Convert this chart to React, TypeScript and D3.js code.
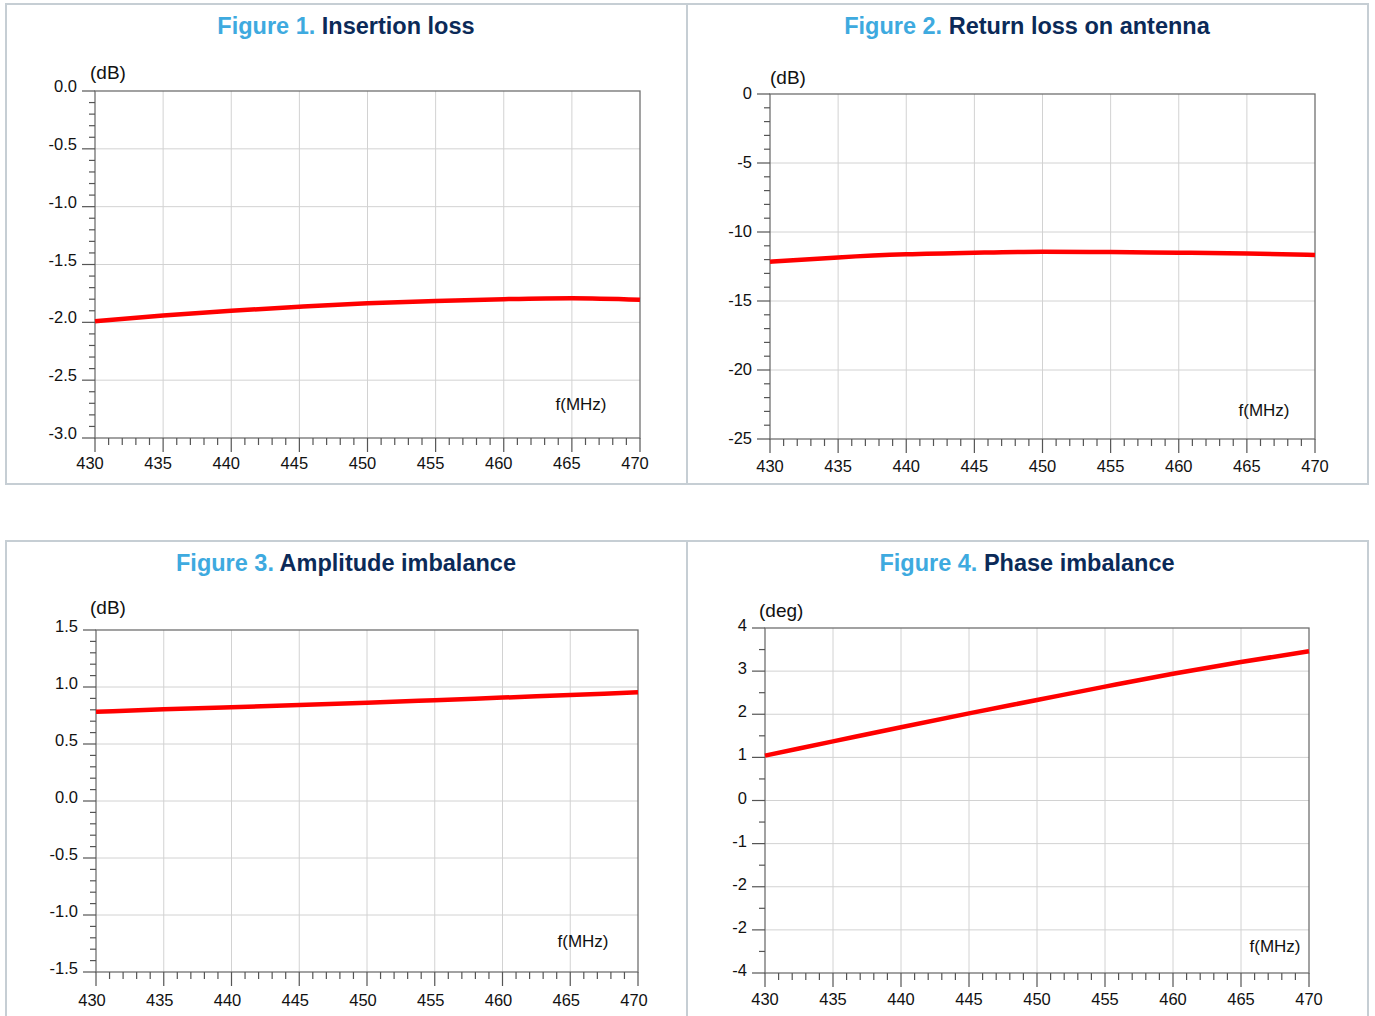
import React, { useRef, useEffect } from "react";
import * as d3 from "d3";

// frequency points (MHz)
const freqs = [430, 435, 440, 445, 450, 455, 460, 465, 470];

// series values
const insertionLoss = [-1.99, -1.94, -1.9, -1.865, -1.835, -1.815, -1.8, -1.792, -1.805];
const returnLoss = [-12.15, -11.84, -11.62, -11.5, -11.43, -11.45, -11.5, -11.55, -11.67];
const amplitudeImbalance = [0.783, 0.804, 0.823, 0.842, 0.862, 0.884, 0.907, 0.93, 0.953];
const phaseImbalance = [1.04, 1.37, 1.7, 2.02, 2.33, 2.64, 2.94, 3.21, 3.46];

// tick labels on the phase plot (as printed)
const phaseTickLabels = ["4", "3", "2", "1", "0", "-1", "-2", "-2", "-4"];

const FONT = "'Liberation Sans', Arial, Helvetica, sans-serif";

// plain hyphen for negatives, like the original
const locale = d3.formatLocale({
  decimal: ".",
  thousands: ",",
  grouping: [3],
  currency: ["", ""],
  minus: "-",
});

interface PanelSpec {
  num: string;
  title: string;
  unit: string;
  values: number[];
  yDomain: [number, number];
  yMajor: number;
  yMinor: number;
  yLabels?: string[];
  yFmt: (v: number) => string;
  // plot box in page pixels
  left: number;
  right: number;
  top: number;
  bottom: number;
  titleX: number;
  titleY: number;
  unitDx: number;
  unitDy: number;
  fDx: number;
  fDy: number;
  xLabelDx: number;
  xLabelDy: number;
  yLabelDy: number;
}

const panels: PanelSpec[] = [
  {
    num: "Figure 1.", title: "Insertion loss", unit: "(dB)", values: insertionLoss,
    yDomain: [-3, 0], yMajor: 0.5, yMinor: 0.1, yFmt: locale.format(".1f"),
    left: 95, right: 640, top: 91, bottom: 438, titleX: 346, titleY: 34,
    unitDx: -5, unitDy: -12, fDx: -59, fDy: -28, xLabelDx: -5, xLabelDy: 31, yLabelDy: 1,
  },
  {
    num: "Figure 2.", title: "Return loss on antenna", unit: "(dB)", values: returnLoss,
    yDomain: [-25, 0], yMajor: 5, yMinor: 1, yFmt: locale.format("d"),
    left: 770, right: 1315, top: 94, bottom: 439, titleX: 1027, titleY: 34,
    unitDx: 0, unitDy: -10, fDx: -51, fDy: -23, xLabelDx: 0, xLabelDy: 33, yLabelDy: 5,
  },
  {
    num: "Figure 3.", title: "Amplitude imbalance", unit: "(dB)", values: amplitudeImbalance,
    yDomain: [-1.5, 1.5], yMajor: 0.5, yMinor: 0.1, yFmt: locale.format(".1f"),
    left: 96, right: 638, top: 630, bottom: 972, titleX: 346, titleY: 571,
    unitDx: -6, unitDy: -16, fDx: -55, fDy: -25, xLabelDx: -4, xLabelDy: 34, yLabelDy: 2,
  },
  {
    num: "Figure 4.", title: "Phase imbalance", unit: "(deg)", values: phaseImbalance,
    yDomain: [-4, 4], yMajor: 1, yMinor: 0.5, yLabels: phaseTickLabels, yFmt: locale.format("d"),
    left: 765, right: 1309, top: 628, bottom: 973, titleX: 1027, titleY: 571,
    unitDx: -6, unitDy: -11, fDx: -34, fDy: -21, xLabelDx: 0, xLabelDy: 32, yLabelDy: 3,
  },
];

const drawPanel = (svg: d3.Selection<SVGSVGElement, unknown, null, undefined>, p: PanelSpec) => {
  const x = d3.scaleLinear().domain([430, 470]).range([p.left, p.right]);
  const y = d3.scaleLinear().domain(p.yDomain).range([p.bottom, p.top]);
  const g = svg.append("g");

  const n = Math.round((p.yDomain[1] - p.yDomain[0]) / p.yMajor);
  const yMajors = d3.range(n + 1).map((i) => p.yDomain[0] + i * p.yMajor);
  const nm = Math.round((p.yDomain[1] - p.yDomain[0]) / p.yMinor);
  const yMinors = d3.range(nm + 1).map((i) => p.yDomain[0] + i * p.yMinor);
  const xMajors = d3.range(430, 471, 5);
  const xMinors = d3.range(430, 471, 1);

  // grid
  g.selectAll(".vgrid")
    .data(xMajors.slice(1, -1))
    .join("line")
    .attr("x1", (d) => x(d)).attr("x2", (d) => x(d))
    .attr("y1", p.top).attr("y2", p.bottom)
    .style("stroke", "#d2d2d2").style("stroke-width", 1);
  g.selectAll(".hgrid")
    .data(yMajors.slice(1, -1))
    .join("line")
    .attr("x1", p.left).attr("x2", p.right)
    .attr("y1", (d) => y(d)).attr("y2", (d) => y(d))
    .style("stroke", "#d2d2d2").style("stroke-width", 1);

  // frame
  g.append("rect")
    .attr("x", p.left).attr("y", p.top)
    .attr("width", p.right - p.left).attr("height", p.bottom - p.top)
    .style("fill", "none").style("stroke", "#707070").style("stroke-width", 1.3);

  // y ticks
  g.selectAll(".ytick")
    .data(yMinors)
    .join("line")
    .attr("x1", (d) => (yMajors.some((m) => Math.abs(m - d) < 1e-6) ? p.left - 13 : p.left - 6))
    .attr("x2", p.left)
    .attr("y1", (d) => y(d)).attr("y2", (d) => y(d))
    .style("stroke", "#555").style("stroke-width", 1.2);

  // x ticks
  g.selectAll(".xtick")
    .data(xMinors)
    .join("line")
    .attr("x1", (d) => x(d)).attr("x2", (d) => x(d))
    .attr("y1", p.bottom)
    .attr("y2", (d) => (d % 5 === 0 ? p.bottom + 14 : p.bottom + 7))
    .style("stroke", "#555").style("stroke-width", 1.2);

  // y labels
  const ordered = [...yMajors].reverse();
  g.selectAll(".ylab")
    .data(ordered)
    .join("text")
    .attr("x", p.left - 18)
    .attr("y", (d) => y(d) + p.yLabelDy)
    .attr("text-anchor", "end")
    .style("font-family", FONT).style("font-size", "16.5px").style("fill", "#111")
    .text((d, i) => (p.yLabels ? p.yLabels[i] : p.yFmt(d)));

  // x labels
  g.selectAll(".xlab")
    .data(xMajors)
    .join("text")
    .attr("x", (d) => x(d) + p.xLabelDx)
    .attr("y", p.bottom + p.xLabelDy)
    .attr("text-anchor", "middle")
    .style("font-family", FONT).style("font-size", "16.5px").style("fill", "#111")
    .text((d) => d);

  // unit labels
  g.append("text")
    .attr("x", p.left + p.unitDx).attr("y", p.top + p.unitDy)
    .style("font-family", FONT).style("font-size", "19px").style("fill", "#111")
    .text(p.unit);
  g.append("text")
    .attr("x", p.right + p.fDx).attr("y", p.bottom + p.fDy)
    .attr("text-anchor", "middle")
    .style("font-family", FONT).style("font-size", "17px").style("fill", "#111")
    .text("f(MHz)");

  // data line
  const line = d3
    .line<number>()
    .x((_, i) => x(freqs[i]))
    .y((d) => y(d))
    .curve(d3.curveMonotoneX);
  g.append("path")
    .datum(p.values)
    .attr("d", line)
    .style("fill", "none").style("stroke", "#ff0000").style("stroke-width", 4.5);

  // title
  const t = g.append("text")
    .attr("x", p.titleX).attr("y", p.titleY)
    .attr("text-anchor", "middle")
    .style("font-family", FONT).style("font-size", "23.5px").style("font-weight", "bold");
  t.append("tspan").style("fill", "#3eaadf").text(p.num + " ");
  t.append("tspan").style("fill", "#0b2a58").text(p.title);
};

export default function App() {
  const svgRef = useRef<SVGSVGElement>(null);

  useEffect(() => {
    const svg = d3.select(svgRef.current!);
    svg.selectAll("*").remove();

    svg.append("rect").attr("width", 1375).attr("height", 1016).style("fill", "#fff");

    // panel boxes
    const boxes = [
      { x: 6, y: 4, h: 480 },
      { x: 6, y: 541, h: 500 },
    ];
    boxes.forEach((b) => {
      svg.append("rect")
        .attr("x", b.x).attr("y", b.y).attr("width", 1362).attr("height", b.h)
        .style("fill", "none").style("stroke", "#c6ced4").style("stroke-width", 2);
      svg.append("line")
        .attr("x1", 687).attr("x2", 687).attr("y1", b.y).attr("y2", b.y + b.h)
        .style("stroke", "#c6ced4").style("stroke-width", 2);
    });

    panels.forEach((p) => drawPanel(svg, p));
  }, []);

  return (
    <svg
      ref={svgRef}
      width={1375}
      height={1016}
      style={{ position: "absolute", left: 0, top: 0, display: "block" }}
    />
  );
}
